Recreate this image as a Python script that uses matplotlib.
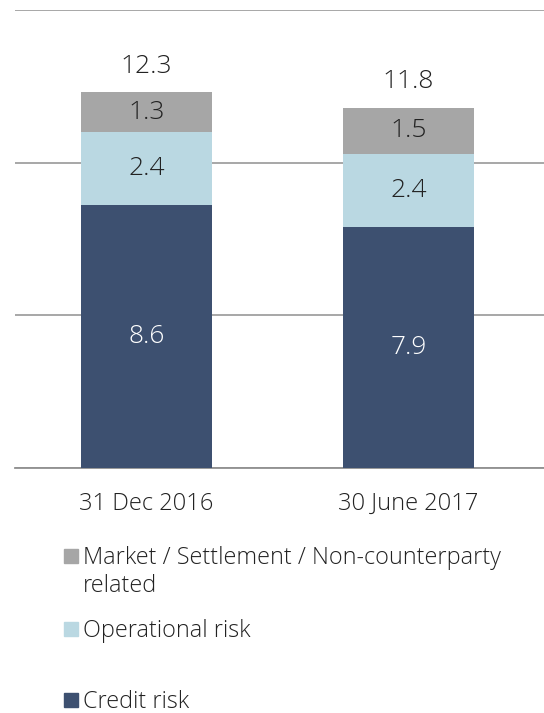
import matplotlib.pyplot as plt
from matplotlib.patches import Rectangle

datos = ["31 Dec 2016", "30 June 2017"]
credit = [8.6, 7.9]
operational = [2.4, 2.4]
market = [1.3, 1.5]
totals = [12.3, 11.8]
legend_labels = ["Market / Settlement / Non-counterparty\nrelated", "Operational risk", "Credit risk"]

navy = "#3D5070"
light = "#BAD8E2"
grey = "#A6A6A6"
fnt = "Open Sans"

fig = plt.figure(figsize=(5.44, 7.13), dpi=100)
ax = fig.add_axes([15 / 544, 1 - 468 / 713, 1 - 15 / 544, (468 - 10) / 713])

x = [0, 1]
ax.bar(x, credit, width=0.5, color=navy, zorder=3)
ax.bar(x, operational, width=0.5, bottom=credit, color=light, zorder=3)
bottom2 = [c + o for c, o in zip(credit, operational)]
ax.bar(x, market, width=0.5, bottom=bottom2, color=grey, zorder=3)

for i in x:
    ax.text(i, credit[i] / 2, f"{credit[i]:.1f}", ha="center", va="center",
            color="white", fontsize=19, family=fnt, weight="light", zorder=4)
    ax.text(i, credit[i] + operational[i] / 2, f"{operational[i]:.1f}", ha="center", va="center",
            color="#222222", fontsize=19, family=fnt, weight="light", zorder=4)
    ax.text(i, bottom2[i] + market[i] / 2, f"{market[i]:.1f}", ha="center", va="center",
            color="#222222", fontsize=19, family=fnt, weight="light", zorder=4)
    ax.text(i, totals[i] + 0.45, f"{totals[i]:.1f}", ha="center", va="bottom",
            color="#222222", fontsize=19, family=fnt, weight="light", zorder=4)

ax.set_ylim(0, 15)
ax.set_xlim(-0.502, 1.517)
ax.set_yticks([0, 5, 10, 15])
ax.yaxis.grid(True, color="#A0A0A0", linewidth=1.3, zorder=0)
ax.tick_params(axis="y", left=False, labelleft=False)
ax.tick_params(axis="x", bottom=False, pad=14)
ax.set_xticks(x)
ax.set_xticklabels(datos, fontsize=17, family=fnt, weight="light", color="#222222")
for s in ["top", "right", "left"]:
    ax.spines[s].set_visible(False)
ax.spines["bottom"].set_color("#909090")
ax.spines["bottom"].set_linewidth(1.3)

# legenda
cols = [grey, light, navy]
ys = [564, 637, 708]
for lab, c, yb in zip(legend_labels, cols, ys):
    fig.patches.append(Rectangle((64 / 544, 1 - (yb - 1) / 713), 14 / 544, 14 / 713,
                                 transform=fig.transFigure, color=c, figure=fig))
    for k, line in enumerate(lab.split("\n")):
        fig.text(83 / 544, 1 - (yb + 28 * k) / 713, line, ha="left", va="baseline",
                 fontsize=16.8, family=fnt, weight="light", color="#222222")

fig.savefig("out.png", dpi=100)
